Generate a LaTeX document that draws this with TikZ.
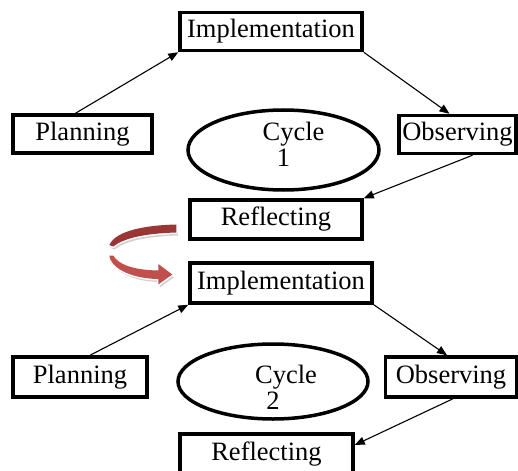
\documentclass[tikz,border=0pt]{standalone}
\usepackage{fontspec}
\setmainfont{Liberation Serif}
\usetikzlibrary{arrows.meta,calc,shapes.geometric}
\definecolor{darkrib}{HTML}{9B3636}
\definecolor{lightrib}{HTML}{C0504D}

\begin{document}
\begin{tikzpicture}[x=1pt,y=-1pt,->,>={Triangle[length=10pt,width=8pt]},line width=1.1pt,
	box/.style={draw,line width=3.5pt,minimum height=38pt,inner sep=0pt,font=\fontsize{26.5}{27}\selectfont},
	cyc/.style={ellipse,draw,line width=3.5pt,inner sep=0pt,align=center,font=\fontsize{26.5}{26.5}\selectfont},
	ribbon/.style={preaction={fill=black!18,transform canvas={shift={(1.5pt,-3pt)}}},
		preaction={draw=white,line width=3pt,line join=round}}]
	\useasboundingbox (0,0) rectangle (518,470);
	\node[box,minimum width=182pt] (I1) at (271,31.5) {Implementation};
	\node[box,minimum width=139pt] (P1) at (82.5,134) {Planning};
	\node[cyc,minimum width=191pt,minimum height=80pt,text height=45pt,text depth=11pt] (C1) at (283.5,150) {\hspace*{20pt}Cycle\\1};
	\node[box,minimum width=117pt] (O1) at (457.5,134.5) {Observing};
	\node[box,minimum width=172pt,minimum height=39pt] (R1) at (276,219.5) {Reflecting};
	\draw[->] ([xshift=-7pt]P1.north) -- (I1.south west);
	\draw[->] (I1.south east) -- ([xshift=-8pt]O1.north);
	\draw[->] ([xshift=15pt]O1.south) -- (R1.north east);
	\node[box,minimum width=182pt,minimum height=40pt] (I2) at (281,283) {Implementation};
	\node[box,minimum width=134pt,minimum height=40pt] (P2) at (80,377) {Planning};
	\node[cyc,minimum width=190pt,minimum height=75pt,inner ysep=-3pt,text height=56.5pt,text depth=0.5pt] (C2) at (273,381.5) {\hspace*{26pt}Cycle\\2};
	\node[box,minimum width=131pt,minimum height=40pt] (O2) at (451,377) {Observing};
	\node[box,minimum width=173pt,minimum height=40pt] (R2) at (266.5,454) {Reflecting};
	\draw[->] ([xshift=10pt]P2.north) -- (I2.south west);
	\draw[->] (I2.south east) -- ([xshift=-4pt]O2.north);
	\draw[->] ([xshift=2pt]O2.south) -- ([yshift=9pt]R2.east);
	\begin{scope}[shift={(R1.west)},-]
		\fill[ribbon,darkrib] (-12,5) .. controls (-52,6) and (-74,14) .. (-79,25.5) -- (-75,27)
			.. controls (-65,19) and (-45,14) .. (-12,13) -- cycle;
		\fill[ribbon,lightrib] (-79,36) .. controls (-78,47) and (-60,59) .. (-30,59.5) -- (-30,65)
			-- (-16,55) -- (-30,44.5) -- (-30,51) .. controls (-55,50.5) and (-70,45) .. (-75,36) -- cycle;
	\end{scope}
\end{tikzpicture}
\end{document}
